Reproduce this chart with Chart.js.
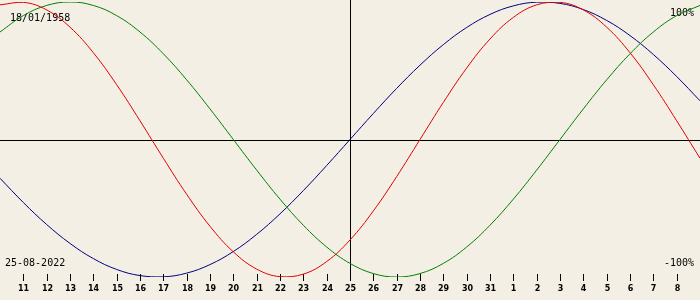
<!DOCTYPE html>
<html>
<head>
<meta charset="utf-8">
<script src="https://cdn.jsdelivr.net/npm/chart.js@4/dist/chart.umd.min.js"></script>
<style>
  html, body { margin: 0; padding: 0; background: #F3EFE4; }
  #wrap { width: 700px; height: 300px; }
</style>
</head>
<body>
<div id="wrap"><canvas id="c" width="700" height="300"></canvas></div>
<script>
// Days shown (10 Aug .. 9 Sep, as running day numbers; 25 = 25-08-2022)
const days = [10,11,12,13,14,15,16,17,18,19,20,21,22,23,24,25,26,27,28,29,30,31,32,33,34,35,36,37,38,39,40];
// Physical (red)
const physical = [0.9791,0.9977,0.9423,0.8170,0.6311,0.3984,0.1362,-0.1362,-0.3984,-0.6311,-0.8170,-0.9423,-0.9977,-0.9791,-0.8879,-0.7308,-0.5196,-0.2698,0,0.2698,0.5196,0.7308,0.8879,0.9791,0.9977,0.9423,0.8170,0.6311,0.3984,0.1362,-0.1362];
// Emotional (green)
const emotional = [0.7818,0.9010,0.9749,1,0.9749,0.9010,0.7818,0.6235,0.4339,0.2225,0,-0.2225,-0.4339,-0.6235,-0.7818,-0.9010,-0.9749,-1,-0.9749,-0.9010,-0.7818,-0.6235,-0.4339,-0.2225,0,0.2225,0.4339,0.6235,0.7818,0.9010,0.9749];
// Intellectual (blue)
const intellectual = [-0.2817,-0.4582,-0.6182,-0.7557,-0.8660,-0.9450,-0.9898,-0.9989,-0.9718,-0.9096,-0.8146,-0.6901,-0.5406,-0.3717,-0.1893,0,0.1893,0.3717,0.5406,0.6901,0.8146,0.9096,0.9718,0.9989,0.9898,0.9450,0.8660,0.7557,0.6182,0.4582,0.2817];
// Tick positions and labels
const tickDays = [11,12,13,14,15,16,17,18,19,20,21,22,23,24,25,26,27,28,29,30,31,32,33,34,35,36,37,38,39];
const tickLabels = ["11","12","13","14","15","16","17","18","19","20","21","22","23","24","25","26","27","28","29","30","31","1","2","3","4","5","6","7","8"];
const todayDay = 25;
const birthText = "18/01/1958";
const dateText = "25-08-2022";
const topText = "100%";
const bottomText = "-100%";

const toPts = arr => arr.map((v, i) => ({x: days[i], y: v}));

const overlay = {
  id: 'overlay',
  beforeDatasetsDraw(chart) {
    const ctx = chart.ctx;
    const xs = chart.scales.x, ys = chart.scales.y;
    ctx.save();
    ctx.strokeStyle = '#000';
    ctx.lineWidth = 1;
    const y0 = Math.round(ys.getPixelForValue(0)) + 0.5;
    ctx.beginPath(); ctx.moveTo(0, y0); ctx.lineTo(700, y0); ctx.stroke();
    const xc = Math.round(xs.getPixelForValue(todayDay)) + 0.5;
    ctx.beginPath(); ctx.moveTo(xc, 0); ctx.lineTo(xc, 281); ctx.stroke();
    // ticks
    ctx.font = 'bold 8px "DejaVu Sans"';
    ctx.fillStyle = '#000';
    ctx.textAlign = 'center';
    ctx.textBaseline = 'alphabetic';
    tickDays.forEach((d, i) => {
      const x = Math.round(xs.getPixelForValue(d)) + 0.5;
      ctx.beginPath(); ctx.moveTo(x, 274); ctx.lineTo(x, 281); ctx.stroke();
      ctx.fillText(tickLabels[i], x, 291);
    });
    ctx.font = '10px "DejaVu Sans Mono"';
    ctx.textAlign = 'left';
    ctx.fillText(birthText, 10, 21);
    ctx.fillText(dateText, 5, 266);
    ctx.textAlign = 'right';
    ctx.fillText(topText, 694, 16);
    ctx.fillText(bottomText, 694, 266);
    ctx.restore();
  }
};

new Chart(document.getElementById('c'), {
  type: 'line',
  data: {
    datasets: [
      {label: 'Physical', data: toPts(physical), borderColor: '#E00000', borderWidth: 1, pointRadius: 0, tension: 0.4, fill: false},
      {label: 'Emotional', data: toPts(emotional), borderColor: '#008000', borderWidth: 1, pointRadius: 0, tension: 0.4, fill: false},
      {label: 'Intellectual', data: toPts(intellectual), borderColor: '#000080', borderWidth: 1, pointRadius: 0, tension: 0.4, fill: false}
    ]
  },
  options: {
    responsive: false,
    animation: false,
    devicePixelRatio: 1,
    layout: {padding: {top: 2, bottom: 23, left: 0, right: 0}},
    plugins: {legend: {display: false}, tooltip: {enabled: false}},
    scales: {
      x: {type: 'linear', min: 10, max: 40, display: false},
      y: {min: -1, max: 1, display: false}
    }
  },
  plugins: [overlay]
});
</script>
</body>
</html>
